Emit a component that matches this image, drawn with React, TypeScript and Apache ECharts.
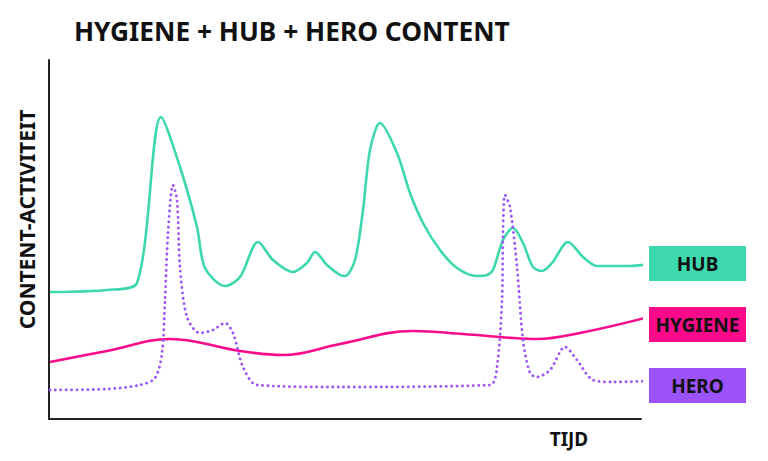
import React, { useEffect, useRef } from "react";
import * as echarts from "echarts";

// time (x) and content activity (y), arbitrary units
const hubX = [1, 58, 88, 112, 131, 148, 156, 176, 191, 209, 224, 244, 258, 266, 278, 291, 296, 306, 314, 321, 331, 348, 361, 374, 391, 408, 428, 438, 444, 454, 464, 474, 484, 493, 503, 519, 534, 548, 581, 600];
const hubY = [127, 129, 136, 302, 252, 192, 151, 133, 142, 177, 159, 147, 156, 167, 154, 144, 143, 159, 209, 269, 296, 266, 226, 196, 169, 151, 143, 144, 149, 179, 191, 176, 152, 148, 156, 177, 162, 153, 153, 155];
const hygieneX = [1, 58, 121, 191, 234, 291, 364, 414, 464, 488, 531, 600];
const hygieneY = [57, 68, 80, 68, 64, 75, 88, 85, 81, 80, 86, 102];
const heroX = [1, 58, 91, 106, 113, 116, 119, 124, 128, 131, 138, 151, 164, 176, 184, 194, 208, 291, 441, 448, 453, 454, 456, 461, 468, 474, 481, 488, 501, 516, 528, 544, 564, 600];
const heroY = [29, 30, 34, 41, 66, 119, 186, 234, 219, 152, 102, 86, 89, 96, 86, 52, 34, 32, 34, 52, 119, 186, 224, 212, 152, 79, 46, 42, 49, 72, 59, 39, 37, 38];

const TEAL = "#3dd8ad";
const PINK = "#fc0a8a";
const PURPLE = "#9b52fb";

const zip = (xs: number[], ys: number[]) => xs.map((x, i) => [x, ys[i]]);

function box(name: string, color: string, y: number) {
  return {
    type: "group",
    left: 649,
    top: y,
    children: [
      { type: "rect", shape: { x: 0, y: 0, width: 97, height: 35 }, style: { fill: color } },
      {
        type: "text",
        x: 48.5,
        y: 18,
        style: {
          text: name,
          fill: "#111",
          font: "bold 19px 'Noto Sans', sans-serif",
          align: "center",
          verticalAlign: "middle",
        },
      },
    ],
  };
}

export default function App() {
  const ref = useRef<HTMLDivElement>(null);
  useEffect(() => {
    const chart = echarts.init(ref.current!, null, { renderer: "svg" });
    chart.setOption({
      animation: false,
      backgroundColor: "#fff",
      title: {
        text: "HYGIENE + HUB + HERO CONTENT",
        left: 74,
        top: 18,
        padding: 0,
        textStyle: { fontFamily: "'Noto Sans', sans-serif", fontWeight: "bold", fontSize: 26.3, color: "#111" },
      },
      grid: { left: 49, top: 60, width: 592, height: 359 },
      xAxis: {
        type: "value",
        min: 0,
        max: 592,
        axisLine: { show: true, lineStyle: { color: "#222", width: 2 } },
        axisTick: { show: false },
        axisLabel: { show: false },
        splitLine: { show: false },
        name: "TIJD",
        nameLocation: "end",
        nameGap: 0,
        nameTextStyle: {
          fontFamily: "'Noto Sans', sans-serif",
          fontWeight: "bold",
          fontSize: 19,
          color: "#111",
          align: "center",
          verticalAlign: "top",
          padding: [10, 0, 0, -144],
        },
      },
      yAxis: {
        type: "value",
        min: 0,
        max: 359,
        axisLine: { show: true, lineStyle: { color: "#222", width: 2 } },
        axisTick: { show: false },
        axisLabel: { show: false },
        splitLine: { show: false },
        name: "CONTENT-ACTIVITEIT",
        nameLocation: "middle",
        nameGap: 12,
        nameTextStyle: {
          fontFamily: "'Noto Sans', sans-serif",
          fontWeight: "bold",
          fontSize: 21,
          color: "#111",
          padding: [0, 0, 0, 40],
        },
      },
      series: [
        {
          type: "line",
          name: "HUB",
          data: zip(hubX, hubY),
          smooth: 0.3,
          showSymbol: false,
          clip: false,
          lineStyle: { color: TEAL, width: 2.6 },
        },
        {
          type: "line",
          name: "HYGIENE",
          data: zip(hygieneX, hygieneY),
          smooth: 0.4,
          showSymbol: false,
          clip: false,
          lineStyle: { color: PINK, width: 2.6 },
        },
        {
          type: "line",
          name: "HERO",
          data: zip(heroX, heroY),
          smooth: 0.3,
          showSymbol: false,
          clip: false,
          lineStyle: { color: PURPLE, width: 2.8, type: [0.1, 5.3], cap: "round" },
        },
      ],
      graphic: [box("HUB", TEAL, 246), box("HYGIENE", PINK, 307), box("HERO", PURPLE, 368)],
    });
    return () => chart.dispose();
  }, []);
  return <div ref={ref} style={{ width: 768, height: 461, position: "absolute", left: 0, top: 0 }} />;
}
